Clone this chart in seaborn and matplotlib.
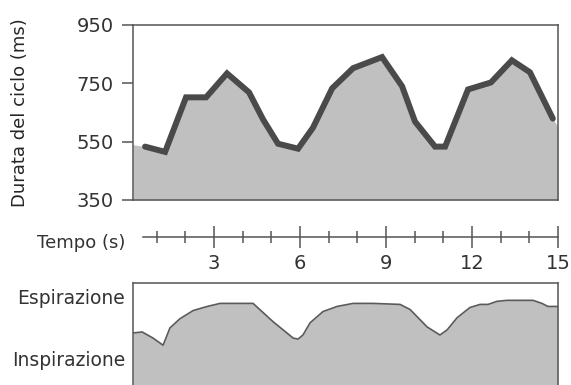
"""Heart cycle duration vs breathing phase (sinus arrhythmia)."""

import matplotlib

matplotlib.use("Agg")
import matplotlib.pyplot as plt
import numpy as np
import pandas as pd
import seaborn as sns

# cycle duration (ms)
beat_time = [0.59, 1.29, 2.02, 2.72, 3.45, 4.22, 4.71, 5.23, 5.93, 6.45, 7.12,
             7.85, 8.86, 9.56, 10.01, 10.71, 11.06, 11.86, 12.66, 13.39, 14.02, 14.82]
cycle_ms = [533, 515, 702, 702, 784, 719, 626, 543, 526, 598, 733,
            802, 840, 740, 619, 533, 533, 729, 753, 829, 788, 629]
# the grey fill runs on to the frame edges
fill_edge_time = [0.17, 15.0]
fill_edge_ms = [540, 600]

# breathing trace (0 = bottom of panel, 1 = top)
resp_time = [0.17, 0.49, 0.87, 1.22, 1.46, 1.81, 2.27, 2.76, 3.21, 4.36, 5.06,
             5.76, 5.93, 6.10, 6.35, 6.80, 7.29, 7.85, 8.55, 9.49, 9.84, 10.43,
             10.88, 11.13, 11.48, 11.93, 12.28, 12.56, 12.87, 13.22, 14.13,
             14.44, 14.65, 15.0]
resp_level = [0.51, 0.52, 0.46, 0.39, 0.56, 0.65, 0.73, 0.77, 0.80, 0.80, 0.62,
              0.46, 0.45, 0.49, 0.61, 0.72, 0.77, 0.80, 0.80, 0.79, 0.74, 0.57,
              0.49, 0.54, 0.66, 0.76, 0.79, 0.79, 0.82, 0.83, 0.83,
              0.80, 0.77, 0.77]

y_ticks = [350, 550, 750, 950]
major_seconds = [3, 6, 9, 12, 15]
minor_seconds = [1, 2, 4, 5, 7, 8, 10, 11, 13, 14]

GREY = "#c0c0c0"
LINE = "#4a4a4a"
FRAME = "#555555"
TEXT = "#333333"
XLIM = (0.17, 15.0)

sns.set_style("white")
plt.rcParams["font.family"] = ["DejaVu Sans"]
plt.rcParams["text.color"] = TEXT
plt.rcParams["xtick.color"] = FRAME
plt.rcParams["ytick.color"] = FRAME
plt.rcParams["xtick.labelcolor"] = TEXT
plt.rcParams["ytick.labelcolor"] = TEXT

W, H = 571, 385
fig = plt.figure(figsize=(W / 100, H / 100), dpi=100)


def box(x0, y0, x1, y1):
    """Pixel box (top-left origin) -> figure rect."""
    return [x0 / W, 1 - y1 / H, (x1 - x0) / W, (y1 - y0) / H]


# --- upper panel ---
ax = fig.add_axes(box(133, 25, 558, 200))
beats = pd.DataFrame({"t": beat_time, "ms": cycle_ms})
fill_t = [fill_edge_time[0]] + beat_time + [fill_edge_time[1]]
fill_v = [fill_edge_ms[0]] + cycle_ms + [fill_edge_ms[1]]
ax.fill_between(fill_t, 350, fill_v, color=GREY, lw=0)
sns.lineplot(data=beats, x="t", y="ms", ax=ax, color=LINE, lw=4.3,
             solid_joinstyle="miter")
ax.set_xlim(*XLIM)
ax.set_ylim(350, 950)
ax.set_yticks(y_ticks)
ax.set_xticks([])
ax.set_xlabel("")
ax.set_ylabel("Durata del ciclo (ms)", fontsize=13, labelpad=34)
ax.tick_params(axis="y", which="major", left=True, direction="out",
               length=8, width=1.1, labelsize=14, pad=6)
for s in ax.spines.values():
    s.set_color(FRAME)
    s.set_linewidth(1.1)

# --- time axis ---
tax = fig.add_axes(box(133, 236, 558, 237))
tax.set_xlim(*XLIM)
tax.set_ylim(0, 1)
for name in ["top", "left", "right"]:
    tax.spines[name].set_visible(False)
tax.spines["bottom"].set_bounds(0.52, 15.0)
tax.spines["bottom"].set_color(FRAME)
tax.spines["bottom"].set_linewidth(1.1)
tax.set_yticks([])
tax.set_xticks(major_seconds)
tax.set_xticks(minor_seconds, minor=True)
tax.tick_params(axis="x", which="major", bottom=True, direction="inout",
                length=16, width=1.1, labelsize=14, pad=4)
tax.tick_params(axis="x", which="minor", bottom=True, direction="inout",
                length=8, width=1.1)
tax.patch.set_alpha(0)
fig.text(125 / W, 1 - 243 / H, "Tempo (s)", ha="right", va="center",
         fontsize=13)

# --- breathing panel ---
bax = fig.add_axes(box(133, 283, 558, 385))
bax.fill_between(resp_time, 0, resp_level, color=GREY, lw=0)
sns.lineplot(x=np.array(resp_time), y=np.array(resp_level), ax=bax,
             color="#5a5a5a", lw=1.2)
bax.set_xlim(*XLIM)
bax.set_ylim(0, 1)
bax.set_xticks([])
bax.set_yticks([])
bax.spines["bottom"].set_visible(False)
for name in ["top", "left", "right"]:
    bax.spines[name].set_color(FRAME)
    bax.spines[name].set_linewidth(1.1)
fig.text(125 / W, 1 - 298 / H, "Espirazione", ha="right", va="center",
         fontsize=13.5)
fig.text(125 / W, 1 - 360 / H, "Inspirazione", ha="right", va="center",
         fontsize=13.5)

fig.savefig("out.png", dpi=100)
plt.close(fig)
